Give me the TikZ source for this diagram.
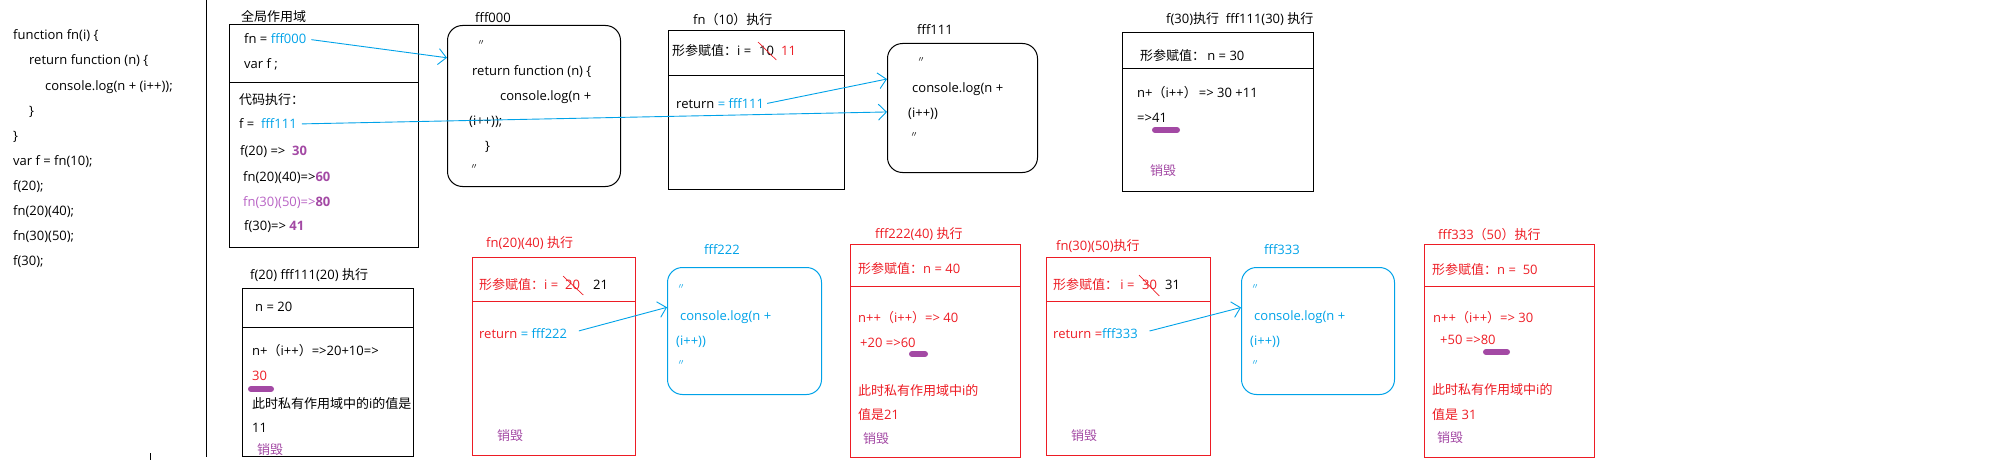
\documentclass[tikz,border=0pt]{standalone}
\usepackage{fontspec}
\setmainfont{Open Sans}
\newfontfamily\cjk{Noto Sans CJK SC}
\usetikzlibrary{arrows.meta}
\definecolor{paintblue}{HTML}{00A2E8}
\definecolor{paintred}{HTML}{ED1C24}
\definecolor{paintpurple}{HTML}{A349A4}
\definecolor{lightpurple}{HTML}{B862C4}

\begin{document}
\begin{tikzpicture}[x=1pt, y=-1pt,
		txt/.style={anchor=west, inner sep=0pt, font=\fontsize{13}{15}\selectfont},
		ditto/.style={anchor=west, inner sep=0pt, font=\cjk\fontsize{8}{9}\selectfont},
		box/.style={draw, line width=1pt, anchor=north west, inner sep=0pt},
		heap/.style={box, rounded corners=15pt},
		ptr/.style={paintblue, line width=0.9pt, -{Straight Barb[length=8pt, width=16pt]}},
		strike/.style={paintred, line width=0.7pt},
		hilite/.style={paintpurple, line width=6pt, line cap=round}]
		
		\useasboundingbox (0,0) rectangle (2000,460);
		
		% Source code
		\node (code1) at (13,36) [txt]{function fn(i) \{};
		\node (code2) at (29,61) [txt]{return function (n) \{};
		\node (code3) at (45,87) [txt]{console.log(n + (i++));};
		\node (code4) at (29,112) [txt]{\}};
		\node (code5) at (13,137) [txt]{\}};
		\node (code6) at (13,162) [txt]{var f = fn(10);};
		\node (code7) at (13,187) [txt]{f(20);};
		\node (code8) at (13,212) [txt]{fn(20)(40);};
		\node (code9) at (13,237) [txt]{fn(30)(50);};
		\node (code10) at (13,262) [txt]{f(30);};
		\draw[line width=1pt] (206,0) -- (206,457);
		\draw (150,453) -- (150,460);
		
		% Global scope
		\node (globalTitle) at (241,17) [txt]{\cjk 全局作用域};
		\node (globalBox) at (229,24) [box, minimum width=189, minimum height=223]{};
		\draw[line width=1pt] (globalBox.west |- 0,83) -- (globalBox.east |- 0,83);
		\node (globalFn) at (244,39) [txt]{fn = \textcolor{paintblue}{fff000}};
		\node (globalVar) at (244,64) [txt]{var f ;};
		\node (globalRun) at (239,100) [txt]{\cjk 代码执行：};
		\node (globalF) at (239,124) [txt]{f = \ \textcolor{paintblue}{fff111}};
		\node (globalF20) at (240,152) [txt]{f(20) =>\ \ \textcolor{paintpurple}{\textbf{30}}};
		\node (globalFn2040) at (243,178) [txt]{fn(20)(40)=>\textcolor{paintpurple}{\textbf{60}}};
		\node (globalFn3050) at (243,203) [txt]{\textcolor{lightpurple}{fn(30)(50)=>}\textcolor{paintpurple}{\textbf{80}}};
		\node (globalF30) at (244,227) [txt]{f(30)=> \textcolor{paintpurple}{\textbf{41}}};
		
		% Heap fff000
		\node (fff000Title) at (475,18) [txt]{fff000};
		\node (fff000) at (447,25) [heap, minimum width=173, minimum height=161]{};
		\node (fff000a) at (477,43) [ditto]{〃};
		\node (fff000b) at (472,72) [txt]{return function (n) \{};
		\node (fff000c) at (500,97) [txt]{console.log(n +};
		\node (fff000d) at (469,122) [txt]{(i++));};
		\node (fff000e) at (485,147) [txt]{\}};
		\node (fff000f) at (470,167) [ditto]{〃};
		
		% fn(10) runs
		\node (fn10Title) at (693,20) [txt]{fn{\cjk（}10{\cjk）执行}};
		\node (fn10) at (668,30) [box, minimum width=176, minimum height=159]{};
		\draw[line width=1pt] (fn10.west |- 0,76) -- (fn10.east |- 0,76);
		\node (fn10Arg) at (672,51) [txt]{{\cjk 形参赋值：}i = };
		\node (fn10Old) at (759,51) [txt]{10};
		\node (fn10New) at (781,51) [txt, paintred]{11};
		\draw[strike] ([xshift=-1pt, yshift=4pt]fn10Old.north west) -- ([xshift=2pt, yshift=-4pt]fn10Old.south east);
		\node (fn10Ret) at (676,104) [txt]{return \textcolor{paintblue}{= fff111}};
		
		% Heap fff111
		\node (fff111Title) at (917,30) [txt]{fff111};
		\node (fff111) at (887,43) [heap, minimum width=150, minimum height=129]{};
		\node (fff111a) at (917,60) [ditto]{〃};
		\node (fff111b) at (912,89) [txt]{console.log(n +};
		\node (fff111c) at (908,114) [txt]{(i++))};
		\node (fff111d) at (910,135) [ditto]{〃};
		
		% f(30) runs
		\node (f30Title) at (1166,19) [txt]{f(30){\cjk 执行}\ \ fff111(30) {\cjk 执行}};
		\node (f30) at (1122,32) [box, minimum width=191, minimum height=159]{};
		\draw[line width=1pt] (f30.west |- 0,69) -- (f30.east |- 0,69);
		\node (f30Arg) at (1140,56) [txt]{{\cjk 形参赋值：}\,n = 30};
		\node (f30Sum) at (1137,93) [txt]{n+{\cjk（}i++{\cjk）}\,=> 30 +11};
		\node (f30Res) at (1137,118) [txt]{=>41};
		\draw[hilite] (1155,130) -- (1177,130);
		\node (f30Gone) at (1150,171) [txt, paintpurple]{\cjk 销毁};
		
		% f(20) runs
		\node (f20Title) at (250,275) [txt]{f(20) fff111(20) {\cjk 执行}};
		\node (f20) at (242,288) [box, minimum width=171, minimum height=168]{};
		\draw[line width=1pt] (f20.west |- 0,327) -- (f20.east |- 0,327);
		\node (f20Arg) at (255,307) [txt]{n = 20};
		\node (f20Sum) at (252,351) [txt]{n+{\cjk（}i++{\cjk）}=>20+10=>};
		\node (f20Res) at (252,376) [txt, paintred]{30};
		\draw[hilite] (251,389) -- (271,389);
		\node (f20Note) at (252,404) [txt]{{\cjk 此时私有作用域中的}i{\cjk 的值是}};
		\node (f20Val) at (252,428) [txt]{11};
		\node (f20Gone) at (257,450) [txt, paintpurple]{\cjk 销毁};
		
		% fn(20)(40) runs
		\node (fn2040Title) at (486,243) [txt, paintred]{fn(20)(40) {\cjk 执行}};
		\node (fn2040) at (472,257) [box, paintred, minimum width=163, minimum height=198]{};
		\draw[paintred, line width=1pt] (fn2040.west |- 0,301) -- (fn2040.east |- 0,301);
		\node (fn2040Arg) at (479,285) [txt, paintred]{{\cjk 形参赋值：}i = };
		\node (fn2040Old) at (565,285) [txt, paintred]{20};
		\node (fn2040New) at (593,285) [txt]{21};
		\draw[strike] ([xshift=-2pt, yshift=4pt]fn2040Old.north west) -- ([xshift=3pt, yshift=-5pt]fn2040Old.south east);
		\node (fn2040Ret) at (479,334) [txt]{\textcolor{paintred}{return} \textcolor{paintblue}{= fff222}};
		\node (fn2040Gone) at (497,436) [txt, paintpurple]{\cjk 销毁};
		
		% Heap fff222
		\node (fff222Title) at (704,250) [txt, paintblue]{fff222};
		\node (fff222) at (667,267) [heap, paintblue, minimum width=154, minimum height=127]{};
		\node (fff222a) at (677,287) [ditto, paintblue]{〃};
		\node (fff222b) at (680,317) [txt, paintblue]{console.log(n +};
		\node (fff222c) at (676,342) [txt, paintblue]{(i++))};
		\node (fff222d) at (677,363) [ditto, paintblue]{〃};
		
		% fff222(40) runs
		\node (fff22240Title) at (875,234) [txt, paintred]{fff222(40) {\cjk 执行}};
		\node (fff22240) at (850,244) [box, paintred, minimum width=170, minimum height=213]{};
		\draw[paintred, line width=1pt] (fff22240.west |- 0,286) -- (fff22240.east |- 0,286);
		\node (fff22240Arg) at (858,269) [txt, paintred]{{\cjk 形参赋值：}n = 40};
		\node (fff22240Sum) at (858,318) [txt, paintred]{n++{\cjk（}i++{\cjk）}=> 40};
		\node (fff22240Res) at (860,343) [txt, paintred]{+20 =>60};
		\draw[hilite] (912,354) -- (925,354);
		\node (fff22240Note) at (858,391) [txt, paintred]{{\cjk 此时私有作用域中}i{\cjk 的}};
		\node (fff22240Val) at (858,415) [txt, paintred]{{\cjk 值是}21};
		\node (fff22240Gone) at (863,439) [txt, paintpurple]{\cjk 销毁};
		
		% fn(30)(50) runs
		\node (fn3050Title) at (1056,246) [txt, paintred]{fn(30)(50){\cjk 执行}};
		\node (fn3050) at (1046,257) [box, paintred, minimum width=164, minimum height=198]{};
		\draw[paintred, line width=1pt] (fn3050.west |- 0,301) -- (fn3050.east |- 0,301);
		\node (fn3050Arg) at (1053,285) [txt, paintred]{{\cjk 形参赋值：}\,i = };
		\node (fn3050Old) at (1142,285) [txt, paintred]{30};
		\node (fn3050New) at (1165,285) [txt]{31};
		\draw[strike] ([xshift=-3pt, yshift=5pt]fn3050Old.north west) -- ([xshift=2pt, yshift=-6pt]fn3050Old.south east);
		\node (fn3050Ret) at (1053,334) [txt]{\textcolor{paintred}{return =}\textcolor{paintblue}{fff333}};
		\node (fn3050Gone) at (1071,436) [txt, paintpurple]{\cjk 销毁};
		
		% Heap fff333
		\node (fff333Title) at (1264,250) [txt, paintblue]{fff333};
		\node (fff333) at (1241,267) [heap, paintblue, minimum width=153, minimum height=127]{};
		\node (fff333a) at (1251,287) [ditto, paintblue]{〃};
		\node (fff333b) at (1254,317) [txt, paintblue]{console.log(n +};
		\node (fff333c) at (1250,342) [txt, paintblue]{(i++))};
		\node (fff333d) at (1251,363) [ditto, paintblue]{〃};
		
		% fff333(50) runs
		\node (fff33350Title) at (1438,235) [txt, paintred]{fff333{\cjk（}50{\cjk）执行}};
		\node (fff33350) at (1424,244) [box, paintred, minimum width=170, minimum height=213]{};
		\draw[paintred, line width=1pt] (fff33350.west |- 0,286) -- (fff33350.east |- 0,286);
		\node (fff33350Arg) at (1432,270) [txt, paintred]{{\cjk 形参赋值：}n = \ 50};
		\node (fff33350Sum) at (1433,318) [txt, paintred]{n++{\cjk（}i++{\cjk）}=> 30};
		\node (fff33350Res) at (1440,340) [txt, paintred]{+50 =>80};
		\draw[hilite] (1486,352) -- (1507,352);
		\node (fff33350Note) at (1432,390) [txt, paintred]{{\cjk 此时私有作用域中}i{\cjk 的}};
		\node (fff33350Val) at (1432,415) [txt, paintred]{{\cjk 值是} 31};
		\node (fff33350Gone) at (1437,438) [txt, paintpurple]{\cjk 销毁};
		
		% References to the heaps
		\draw[ptr, shorten <=5pt] (globalFn.east) -- (fff000.151);
		\draw[ptr, shorten <=5pt] (globalF.east) -- (fff111.183);
		\draw[ptr, shorten <=3pt] (fn10Ret.east) -- (fff111.159);
		\draw[ptr, shorten <=12pt] (fn2040Ret.east) -- (fff222.163);
		\draw[ptr, shorten <=12pt] (fn3050Ret.east) -- (fff333.163);
		
	\end{tikzpicture}
\end{document}
